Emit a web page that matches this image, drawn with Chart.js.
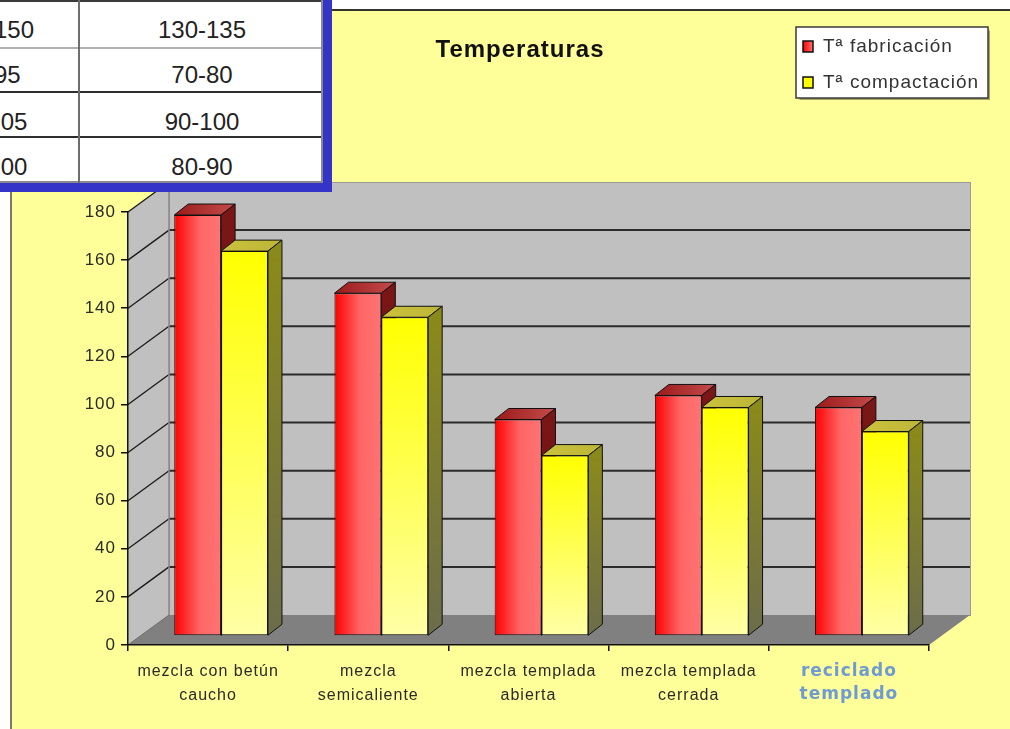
<!DOCTYPE html>
<html lang="es">
<head>
<meta charset="utf-8">
<title>Temperaturas</title>
<script src="https://cdn.jsdelivr.net/npm/chart.js@4/dist/chart.umd.min.js"></script>
<style>
  html, body { margin: 0; padding: 0; width: 1010px; height: 729px; overflow: hidden; background: #fff; }
  #frame { position: absolute; left: 10px; top: 9px; width: 1010px; height: 730px; background: #ffff99;
           border-top: 2px solid #333; border-left: 2px solid #7a7a68; }
  #chart { position: absolute; left: 0; top: 0; }
  #tabla { position: absolute; left: 0; top: 0; z-index: 2; font-family: 'Liberation Sans', Arial, sans-serif; }
</style>
</head>
<body>
<div id="frame"></div>
<canvas id="chart" width="1010" height="729"></canvas>
<div id="tabla"></div>
<script>
// ---- data ----
const chartTitle = 'Temperaturas';
const categories = [
  ['mezcla con betún', 'caucho'],
  ['mezcla', 'semicaliente'],
  ['mezcla templada', 'abierta'],
  ['mezcla templada', 'cerrada'],
  ['reciclado', 'templado']
];
const seriesNames = ['Tª fabricación', 'Tª compactación'];
const fabricacion = [175, 142.5, 90, 100, 95];
const compactacion = [160, 132.5, 75, 95, 85];
const yMin = 0, yMax = 180, yStep = 20;
const rangosFabricacion = ['135-150', '85-95', '95-105', '90-100'];
const rangosCompactacion = ['130-135', '70-80', '90-100', '80-90'];

// ---- styling ----
const FONT = "'Liberation Sans', Arial, sans-serif";
const WALL = { x: 41, y: -30 };        // depth of the box (front axis plane -> back wall)
const BAR_SHIFT = { x: 13, y: -9 };    // bars stand a third of the way into the box
const BAR_DEPTH = { x: 14, y: -11 };   // thickness of each bar

function poly(ctx, pts, fill, stroke, lw) {
  ctx.beginPath();
  ctx.moveTo(pts[0][0], pts[0][1]);
  for (let i = 1; i < pts.length; i++) ctx.lineTo(pts[i][0], pts[i][1]);
  ctx.closePath();
  if (fill) { ctx.fillStyle = fill; ctx.fill(); }
  if (stroke) { ctx.strokeStyle = stroke; ctx.lineWidth = lw || 1; ctx.stroke(); }
}

// walls, floor, gridlines, bar depth, title and legend
const caja3d = {
  id: 'caja3d',
  beforeDraw(chart) {
    const ctx = chart.ctx, a = chart.chartArea, ys = chart.scales.y;
    ctx.letterSpacing = '1px';
    const L = a.left, R = a.right, T = a.top, B = a.bottom;
    ctx.save();
    // back wall
    ctx.fillStyle = '#c0c0c0';
    ctx.fillRect(L + WALL.x, T + WALL.y, R - L, B - T);
    ctx.strokeStyle = '#9a9a9a'; ctx.lineWidth = 1;
    ctx.strokeRect(L + WALL.x + 0.5, T + WALL.y + 0.5, R - L, B - T);
    // left side wall
    poly(ctx, [[L, B], [L, T], [L + WALL.x, T + WALL.y], [L + WALL.x, B + WALL.y]], '#c0c0c0');
    // floor
    poly(ctx, [[L, B], [L + WALL.x, B + WALL.y], [R + WALL.x, B + WALL.y], [R, B]], '#808080');
    // gridlines
    for (let v = yMin + yStep; v <= yMax; v += yStep) {
      const yf = ys.getPixelForValue(v);
      if (v < yMax) {
        ctx.beginPath();
        ctx.moveTo(L + WALL.x, yf + WALL.y);
        ctx.lineTo(R + WALL.x, yf + WALL.y);
        ctx.strokeStyle = '#2b2b2b'; ctx.lineWidth = 2;
        ctx.stroke();
      }
      ctx.beginPath();
      ctx.moveTo(L, yf);
      ctx.lineTo(L + WALL.x, yf + WALL.y);
      ctx.strokeStyle = '#1a1a1a'; ctx.lineWidth = 1.3;
      ctx.stroke();
    }
    // corner between side and back wall
    ctx.beginPath();
    ctx.moveTo(L + WALL.x, T + WALL.y);
    ctx.lineTo(L + WALL.x, B + WALL.y);
    ctx.strokeStyle = '#8a8a8a'; ctx.lineWidth = 1.5;
    ctx.stroke();
    // floor front-left diagonal
    ctx.beginPath();
    ctx.moveTo(L, B); ctx.lineTo(L + WALL.x, B + WALL.y);
    ctx.strokeStyle = '#6a6a6a'; ctx.lineWidth = 1;
    ctx.stroke();
    ctx.restore();
  },
  beforeDatasetsDraw(chart) {
    const ctx = chart.ctx;
    ctx.save();
    ctx.translate(BAR_SHIFT.x, BAR_SHIFT.y);
    const n = chart.data.labels.length;
    const dx = BAR_DEPTH.x, dy = BAR_DEPTH.y;
    for (let i = 0; i < n; i++) {
      for (let d = 0; d < chart.data.datasets.length; d++) {
        const el = chart.getDatasetMeta(d).data[i];
        const { x, y, base, width } = el.getProps(['x', 'y', 'base', 'width'], true);
        const l = x - width / 2, r = x + width / 2;
        let topFill, sideFill, front;
        if (d === 0) {
          topFill = ctx.createLinearGradient(l, 0, r + dx, 0);
          topFill.addColorStop(0, '#9c1a1a'); topFill.addColorStop(1, '#c44c4c');
          sideFill = ctx.createLinearGradient(0, y, 0, base);
          sideFill.addColorStop(0, '#7a1616'); sideFill.addColorStop(1, '#5e1010');
          front = ctx.createLinearGradient(l, 0, r, 0);
          front.addColorStop(0, '#ff0000'); front.addColorStop(0.55, '#ff6666'); front.addColorStop(1, '#ff7373');
        } else {
          topFill = ctx.createLinearGradient(l, 0, r + dx, 0);
          topFill.addColorStop(0, '#cbc33c'); topFill.addColorStop(1, '#bdb537');
          sideFill = ctx.createLinearGradient(0, y, 0, base);
          sideFill.addColorStop(0, '#8a8a1a'); sideFill.addColorStop(1, '#6c6c4a');
          front = ctx.createLinearGradient(0, y, 0, base);
          front.addColorStop(0, '#ffff00'); front.addColorStop(1, '#ffffa6');
        }
        poly(ctx, [[l, y], [r, y], [r + dx, y + dy], [l + dx, y + dy]], topFill, '#111', 1);
        poly(ctx, [[r, y], [r + dx, y + dy], [r + dx, base + dy], [r, base]], sideFill, '#111', 1);
        // per-bar front shading (each bar owns its options object: colour is scriptable)
        el.options.backgroundColor = front;
      }
    }
  },
  afterDatasetsDraw(chart) {
    chart.ctx.restore();
  },
  afterDraw(chart) {
    const ctx = chart.ctx;
    // title
    ctx.save();
    ctx.letterSpacing = '1px';
    ctx.font = 'bold 24px ' + FONT;
    ctx.fillStyle = '#111';
    ctx.textAlign = 'center';
    ctx.textBaseline = 'middle';
    ctx.fillText(chartTitle, 520, 50);
    ctx.restore();
    // legend box
    const lx = 796, ly = 27, lw = 192, lh = 71;
    ctx.save();
    ctx.shadowColor = 'rgba(0,0,0,0.35)'; ctx.shadowOffsetX = 1.5; ctx.shadowOffsetY = 1.5; ctx.shadowBlur = 1;
    ctx.fillStyle = '#ffffff';
    ctx.fillRect(lx, ly, lw, lh);
    ctx.restore();
    ctx.save();
    ctx.strokeStyle = '#3a3a3a'; ctx.lineWidth = 1.5;
    ctx.strokeRect(lx, ly, lw, lh);
    ctx.letterSpacing = '1px';
    ctx.font = '19px ' + FONT;
    ctx.textBaseline = 'middle';
    ctx.textAlign = 'left';
    chart.data.datasets.forEach((ds, k) => {
      const sy = 41 + k * 36;
      let fill;
      if (k === 0) {
        fill = ctx.createLinearGradient(803, 0, 813, 0);
        fill.addColorStop(0, '#ff0000'); fill.addColorStop(1, '#ff7373');
      } else {
        fill = '#ffff00';
      }
      ctx.fillStyle = fill;
      ctx.fillRect(803, sy, 10, 11);
      ctx.strokeStyle = '#111'; ctx.lineWidth = 1.5;
      ctx.strokeRect(803, sy, 10, 11);
      ctx.fillStyle = '#333';
      ctx.fillText(ds.label, 823, sy + 5.5);
    });
    ctx.restore();
    ctx.letterSpacing = '0px';
  }
};

new Chart(document.getElementById('chart'), {
  type: 'bar',
  data: {
    labels: categories,
    datasets: [
      { label: seriesNames[0], data: fabricacion, backgroundColor: () => '#ff3333', borderColor: '#111', borderWidth: 1, borderSkipped: false, clip: false },
      { label: seriesNames[1], data: compactacion, backgroundColor: () => '#ffff66', borderColor: '#111', borderWidth: 1, borderSkipped: false, clip: false }
    ]
  },
  options: {
    responsive: false,
    animation: false,
    events: [],
    devicePixelRatio: 1,
    layout: { padding: { left: 82, right: 81, top: 212, bottom: 24 } },
    datasets: { bar: { categoryPercentage: 0.585, barPercentage: 1.0 } },
    plugins: {
      legend: { display: false },
      tooltip: { enabled: false },
      title: { display: false }
    },
    scales: {
      x: {
        offset: true,
        grid: { offset: true, drawOnChartArea: false, drawTicks: true, tickLength: 6, color: '#111', lineWidth: 1.5 },
        border: { display: true, color: '#111', width: 1.5 },
        ticks: {
          padding: 9,
          autoSkip: false,
          maxRotation: 0,
          color: c => c.index === 4 ? '#6f9bd2' : '#2a2a2a',
          font: c => c.index === 4
            ? { family: "'DejaVu Sans', Verdana, sans-serif", size: 17, weight: 'bold', lineHeight: 23 / 17 }
            : { family: FONT, size: 16, lineHeight: 1.5 }
        },
        afterFit: s => { s.height = 60; }
      },
      y: {
        min: yMin,
        max: yMax,
        grid: { drawOnChartArea: false, drawTicks: true, tickLength: 7, color: '#111', lineWidth: 1.5 },
        border: { display: true, color: '#111', width: 1.5 },
        ticks: { stepSize: yStep, padding: 5, color: '#2a2a2a', font: { family: FONT, size: 17 } },
        afterFit: s => { s.width = 46; }
      }
    }
  },
  plugins: [caja3d]
});

// range table laid over the top-left corner
(function construirTabla() {
  const t = document.getElementById('tabla');
  const add = (css, text) => {
    const d = document.createElement('div');
    d.style.cssText = 'position:absolute;' + css;
    if (text) d.textContent = text;
    t.appendChild(d);
  };
  add('left:-130px;top:-10px;width:453px;height:193px;background:#fff;');
  const lines = [[0, '#3a3a3a'], [47, '#b0b0b0'], [91, '#2e2e2e'], [136, '#2e2e2e'], [181, '#8a8a8a']];
  lines.forEach(([y, c]) => add(`left:-130px;top:${y}px;width:453px;height:2px;background:${c};`));
  add('left:78px;top:-10px;width:2px;height:193px;background:#6e6e6e;');
  add('left:321px;top:-10px;width:2px;height:193px;background:#8a8a8a;');
  add('left:323px;top:-10px;width:9px;height:202px;background:#3434c8;');
  add('left:-130px;top:183px;width:462px;height:9px;background:#3434c8;');
  const centers = [30, 75, 122, 167];
  centers.forEach((cy, i) => {
    const txt = 'width:200px;height:30px;line-height:30px;text-align:center;font-size:24px;color:#222;';
    add(`left:${-10 - 100}px;top:${cy - 15}px;` + txt, rangosFabricacion[i]);
    add(`left:${202 - 100}px;top:${cy - 15}px;` + txt, rangosCompactacion[i]);
  });
})();
</script>
</body>
</html>
